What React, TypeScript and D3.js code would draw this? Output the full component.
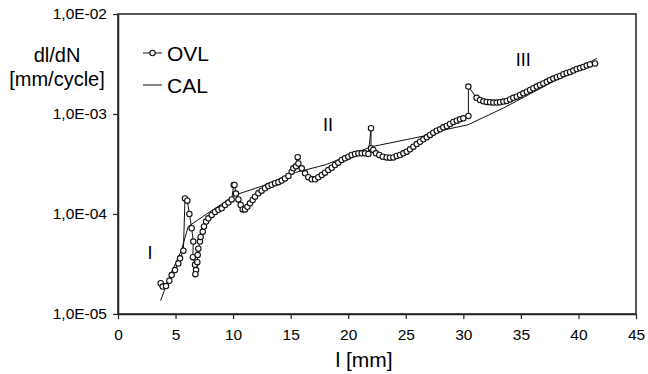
import React, { useEffect, useRef } from 'react';
import * as d3 from 'd3';

// crack length l [mm] and growth rate dl/dN [mm/cycle]
const ovlLength = [3.71, 3.88, 4.17, 4.46, 4.66, 4.95, 5.24, 5.39, 5.68, 5.82, 6.02, 6.2, 6.4, 6.54, 6.5, 6.69, 6.78, 6.72, 6.89, 6.92, 6.98, 7.12, 7.18, 7.36, 7.47, 7.65, 7.85, 8.14, 8.43, 8.72, 9.01, 9.3, 9.59, 9.88, 10.05, 10.12, 10.25, 10.46, 10.66, 10.83, 11.03, 11.24, 11.47, 11.7, 11.9, 12.19, 12.48, 12.77, 13.06, 13.35, 13.64, 13.93, 14.22, 14.51, 14.8, 15.09, 15.23, 15.46, 15.61, 15.67, 15.96, 16.25, 16.53, 16.83, 17.12, 17.4, 17.7, 17.98, 18.27, 18.57, 18.85, 19.14, 19.43, 19.72, 20.01, 20.3, 20.59, 20.88, 21.17, 21.46, 21.75, 21.98, 21.98, 22.18, 22.41, 22.7, 23.0, 23.34, 23.63, 23.92, 24.21, 24.5, 24.79, 25.08, 25.37, 25.66, 25.95, 26.24, 26.53, 26.82, 27.11, 27.39, 27.69, 27.98, 28.26, 28.56, 28.84, 29.13, 29.43, 29.71, 30.0, 30.44, 30.44, 31.15, 31.45, 31.74, 32.03, 32.32, 32.61, 32.9, 33.19, 33.48, 33.77, 34.06, 34.34, 34.64, 34.93, 35.21, 35.51, 35.8, 36.08, 36.38, 36.66, 36.95, 37.25, 37.53, 37.82, 38.12, 38.4, 38.69, 38.98, 39.27, 39.56, 39.85, 40.14, 40.43, 40.72, 41.0, 41.44];
const ovlRate = [2.03e-5, 1.88e-5, 1.9e-5, 2.15e-5, 2.45e-5, 2.75e-5, 3.2e-5, 3.6e-5, 4.3e-5, 1.43e-4, 1.36e-4, 1.0e-4, 7.2e-5, 5.3e-5, 3.7e-5, 3.1e-5, 2.75e-5, 2.5e-5, 3.3e-5, 3.9e-5, 4.5e-5, 5.3e-5, 5.9e-5, 6.65e-5, 7.5e-5, 8.4e-5, 9.05e-5, 9.8e-5, 1.05e-4, 1.1e-4, 1.14e-4, 1.23e-4, 1.3e-4, 1.4e-4, 1.95e-4, 1.95e-4, 1.6e-4, 1.4e-4, 1.23e-4, 1.11e-4, 1.11e-4, 1.18e-4, 1.28e-4, 1.38e-4, 1.49e-4, 1.61e-4, 1.71e-4, 1.81e-4, 1.9e-4, 1.96e-4, 2.03e-4, 2.08e-4, 2.16e-4, 2.27e-4, 2.4e-4, 2.65e-4, 2.86e-4, 3.0e-4, 3.7e-4, 3.2e-4, 2.86e-4, 2.55e-4, 2.33e-4, 2.22e-4, 2.22e-4, 2.33e-4, 2.45e-4, 2.59e-4, 2.75e-4, 2.9e-4, 3.09e-4, 3.26e-4, 3.47e-4, 3.6e-4, 3.74e-4, 3.89e-4, 3.98e-4, 4.04e-4, 4.04e-4, 4.04e-4, 3.98e-4, 7.2e-4, 4.54e-4, 4.37e-4, 4.04e-4, 3.89e-4, 3.74e-4, 3.68e-4, 3.66e-4, 3.68e-4, 3.8e-4, 3.89e-4, 4.04e-4, 4.2e-4, 4.43e-4, 4.71e-4, 5.0e-4, 5.28e-4, 5.58e-4, 5.84e-4, 6.17e-4, 6.5e-4, 6.8e-4, 7.02e-4, 7.35e-4, 7.59e-4, 7.94e-4, 8.32e-4, 8.57e-4, 8.85e-4, 9.06e-4, 9.55e-4, 1.88e-3, 1.45e-3, 1.38e-3, 1.34e-3, 1.32e-3, 1.31e-3, 1.3e-3, 1.3e-3, 1.31e-3, 1.33e-3, 1.35e-3, 1.4e-3, 1.45e-3, 1.49e-3, 1.55e-3, 1.61e-3, 1.67e-3, 1.74e-3, 1.81e-3, 1.88e-3, 1.95e-3, 2.02e-3, 2.1e-3, 2.19e-3, 2.26e-3, 2.33e-3, 2.4e-3, 2.5e-3, 2.57e-3, 2.63e-3, 2.72e-3, 2.82e-3, 2.88e-3, 2.95e-3, 3.05e-3, 3.13e-3, 3.2e-3];

const calLength = [3.7, 4.5, 5.5, 6.1, 7.7, 10.2, 12.5, 15.4, 18.0, 22.0, 26.5, 28.5, 30.4, 33.5, 41.6];
const calRate = [1.36e-5, 2.4e-5, 4.3e-5, 7.5e-5, 1.0e-4, 1.55e-4, 1.9e-4, 2.6e-4, 3.1e-4, 4.7e-4, 6.0e-4, 7.0e-4, 7.8e-4, 1.15e-3, 3.6e-3];

const xTicks = [0, 5, 10, 15, 20, 25, 30, 35, 40, 45];
const yTicks = [1e-5, 1e-4, 1e-3, 1e-2];
const yTickLabels = ['1,0E-05', '1,0E-04', '1,0E-03', '1,0E-02'];

// crack growth stages
const regionLabels = ['I', 'II', 'III'];
const regionLength = [2.78, 18.25, 35.2];
const regionRate = [4.1e-5, 7.8e-4, 3.47e-3];

const FONT = '"Liberation Sans", Arial, sans-serif';

const App = () => {
    const ref = useRef(null);

    useEffect(() => {
        const svg = d3.select(ref.current);
        svg.selectAll('*').remove();

        const left = 118, right = 636, top = 14, bottom = 314;

        const x = d3.scaleLinear().domain([0, 45]).range([left, right]);
        const y = d3.scaleLog().domain([1e-5, 1e-2]).range([bottom, top]);

        // plot frame
        svg.append('rect')
            .attr('x', left).attr('y', top)
            .attr('width', right - left).attr('height', bottom - top)
            .attr('fill', 'none').attr('stroke', '#222').attr('stroke-width', 1.5);

        // axes
        const xAxis = svg.append('g')
            .attr('transform', `translate(0,${bottom})`)
            .call(d3.axisBottom(x).tickValues(xTicks).tickSize(5).tickSizeOuter(0).tickPadding(10));
        const yAxis = svg.append('g')
            .attr('transform', `translate(${left},0)`)
            .call(d3.axisLeft(y).tickValues(yTicks).tickSize(5).tickSizeOuter(0).tickPadding(6)
                .tickFormat((d, i) => yTickLabels[i]));
        [xAxis, yAxis].forEach(g => {
            g.selectAll('.domain').attr('stroke', '#222').attr('stroke-width', 1.5);
            g.selectAll('.tick line').attr('stroke', '#222').attr('stroke-width', 1.2);
            g.selectAll('.tick text')
                .attr('fill', '#000')
                .style('font-family', FONT)
                .style('font-size', '15.5px');
        });

        // axis titles
        svg.append('text')
            .attr('x', 364).attr('y', 367)
            .attr('text-anchor', 'middle')
            .style('font-family', FONT).style('font-size', '21px')
            .text('l [mm]');
        svg.append('text')
            .attr('x', 57).attr('y', 62)
            .attr('text-anchor', 'middle')
            .style('font-family', FONT).style('font-size', '20px')
            .text('dl/dN');
        svg.append('text')
            .attr('x', 57).attr('y', 86)
            .attr('text-anchor', 'middle')
            .style('font-family', FONT).style('font-size', '20px')
            .text('[mm/cycle]');

        // CAL curve
        const line = d3.line().x(d => x(d[0])).y(d => y(d[1]));
        svg.append('path')
            .datum(calLength.map((l, i) => [l, calRate[i]]))
            .attr('d', line)
            .attr('fill', 'none').attr('stroke', '#111').attr('stroke-width', 1);

        // OVL measurements
        const ovl = ovlLength.map((l, i) => [l, ovlRate[i]]);
        svg.append('path')
            .datum(ovl)
            .attr('d', line)
            .attr('fill', 'none').attr('stroke', '#111').attr('stroke-width', 1);
        svg.append('g').selectAll('circle')
            .data(ovl)
            .enter().append('circle')
            .attr('cx', d => x(d[0]))
            .attr('cy', d => y(d[1]))
            .attr('r', 2.7)
            .attr('fill', '#fff').attr('stroke', '#111').attr('stroke-width', 1.1);

        // region labels
        svg.append('g').selectAll('text')
            .data(regionLabels)
            .enter().append('text')
            .attr('x', (d, i) => x(regionLength[i]))
            .attr('y', (d, i) => y(regionRate[i]))
            .attr('text-anchor', 'middle')
            .attr('dominant-baseline', 'central')
            .style('font-family', FONT).style('font-size', '18px')
            .text(d => d);

        // legend
        const legend = svg.append('g');
        legend.append('line')
            .attr('x1', 143).attr('x2', 162).attr('y1', 53).attr('y2', 53)
            .attr('stroke', '#111').attr('stroke-width', 1);
        legend.append('circle')
            .attr('cx', 152.5).attr('cy', 53).attr('r', 2.7)
            .attr('fill', '#fff').attr('stroke', '#111').attr('stroke-width', 1.1);
        legend.append('text')
            .attr('x', 167).attr('y', 60.5)
            .style('font-family', FONT).style('font-size', '21px')
            .text('OVL');
        legend.append('line')
            .attr('x1', 143).attr('x2', 162).attr('y1', 85).attr('y2', 85)
            .attr('stroke', '#111').attr('stroke-width', 1);
        legend.append('text')
            .attr('x', 167).attr('y', 92.5)
            .style('font-family', FONT).style('font-size', '21px')
            .text('CAL');
    }, []);

    return (
        <svg ref={ref} width={648} height={374}
            style={{ position: 'absolute', left: 0, top: 0, background: '#fff' }} />
    );
};

export default App;
